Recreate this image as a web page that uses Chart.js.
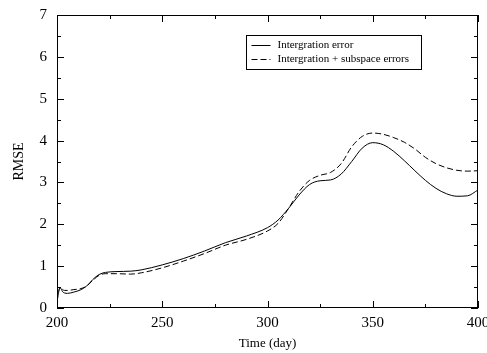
<!DOCTYPE html>
<html>
<head>
<meta charset="utf-8">
<script src="https://cdn.jsdelivr.net/npm/chart.js@4/dist/chart.umd.min.js"></script>
<style>
  html, body { margin: 0; padding: 0; background: #fff; }
  #wrap { width: 487px; height: 353px; }
</style>
</head>
<body>
<div id="wrap"><canvas id="rmse"></canvas></div>
<script>
const days = [200, 200.5, 201, 201.8, 202.5, 203.5, 205, 208, 211, 214, 217, 220, 223, 228, 235, 240,
  250, 260, 270, 280, 290, 300, 305, 310, 315, 320, 325, 330, 335, 340, 345, 350,
  355, 360, 365, 370, 375, 380, 385, 390, 395, 400];
const intErr = [0.12, 0.3, 0.42, 0.47, 0.4, 0.36, 0.35, 0.38, 0.43, 0.52, 0.68, 0.8, 0.85, 0.87, 0.88, 0.91,
  1.03, 1.18, 1.36, 1.56, 1.72, 1.92, 2.1, 2.38, 2.7, 2.95, 3.04, 3.06, 3.2, 3.5, 3.82, 3.95,
  3.9, 3.74, 3.52, 3.28, 3.05, 2.86, 2.73, 2.67, 2.68, 2.82];
const intSubErr = [0.15, 0.35, 0.45, 0.5, 0.45, 0.42, 0.42, 0.44, 0.46, 0.52, 0.66, 0.78, 0.82, 0.82, 0.81, 0.84,
  0.96, 1.12, 1.3, 1.5, 1.64, 1.84, 2.02, 2.38, 2.78, 3.05, 3.17, 3.24, 3.45, 3.85, 4.1, 4.18,
  4.15, 4.07, 3.96, 3.8, 3.6, 3.45, 3.35, 3.29, 3.27, 3.28];
const xTicks = [200, 250, 300, 350, 400];
const yTicks = [0, 1, 2, 3, 4, 5, 6, 7];
const seriesNames = ["Intergration error", "Intergration + subspace errors"];

const serif = "'Liberation Serif', 'DejaVu Serif', serif";

function pts(ys) {
  return days.map((d, i) => ({ x: d, y: ys[i] }));
}

// inward ticks on all four sides, plus the framed legend
const frame = {
  id: 'frame',
  afterDraw(chart) {
    const ctx = chart.ctx, a = chart.chartArea;
    const xs = chart.scales.x, ys = chart.scales.y;
    ctx.save();
    ctx.strokeStyle = '#000';
    ctx.lineWidth = 1;
    ctx.strokeRect(a.left + 0.5, a.top + 0.5, a.right - a.left - 1, a.bottom - a.top - 1);
    ctx.beginPath();
    for (let v = 200; v <= 400; v += 25) {
      const px = Math.round(xs.getPixelForValue(v)) + 0.5;
      const len = v % 50 === 0 ? 7 : 4;
      ctx.moveTo(px, a.bottom); ctx.lineTo(px, a.bottom - len);
      ctx.moveTo(px, a.top); ctx.lineTo(px, a.top + len);
    }
    for (let v = 0; v <= 7; v += 0.5) {
      const py = Math.round(ys.getPixelForValue(v)) + 0.5;
      const len = v % 1 === 0 ? 7 : 4;
      ctx.moveTo(a.left, py); ctx.lineTo(a.left + len, py);
      ctx.moveTo(a.right, py); ctx.lineTo(a.right - len, py);
    }
    ctx.stroke();

    // legend box
    const bx = 246.5, by = 35.5, bw = 175, bh = 34;
    ctx.fillStyle = '#fff';
    ctx.fillRect(bx, by, bw, bh);
    ctx.strokeRect(bx, by, bw, bh);
    ctx.font = "11px " + serif;
    ctx.fillStyle = '#000';
    ctx.textBaseline = 'middle';
    chart.data.datasets.forEach((ds, i) => {
      const ly = by + 10 + i * 14;
      ctx.beginPath();
      ctx.setLineDash(ds.borderDash || []);
      ctx.moveTo(bx + 5, ly); ctx.lineTo(bx + 24, ly);
      ctx.stroke();
      ctx.setLineDash([]);
      ctx.fillText(ds.label, bx + 31, ly);
    });
    ctx.restore();
  }
};

new Chart(document.getElementById('rmse'), {
  type: 'line',
  data: {
    datasets: [{
      label: seriesNames[0],
      data: pts(intErr),
      borderColor: '#000',
      borderWidth: 1,
      pointRadius: 0,
      cubicInterpolationMode: 'monotone'
    }, {
      label: seriesNames[1],
      data: pts(intSubErr),
      borderColor: '#000',
      borderWidth: 1,
      borderDash: [6, 3],
      pointRadius: 0,
      cubicInterpolationMode: 'monotone'
    }]
  },
  options: {
    responsive: true,
    maintainAspectRatio: false,
    animation: false,
    layout: { padding: { top: 15, right: 9, left: 0, bottom: 0 } },
    plugins: { legend: { display: false }, tooltip: { enabled: false } },
    scales: {
      x: {
        type: 'linear', min: 200, max: 400,
        afterBuildTicks: s => { s.ticks = xTicks.map(v => ({ value: v })); },
        afterFit: s => { s.height = 45; s.paddingRight = 0; s.paddingLeft = 0; },
        grid: { display: false, drawTicks: false },
        border: { display: false },
        ticks: { color: '#000', font: { family: serif, size: 15 }, padding: 6, maxRotation: 0 },
        title: { display: true, text: 'Time (day)', color: '#000', font: { family: serif, size: 13 }, padding: { top: 0, bottom: 2 } }
      },
      y: {
        min: 0, max: 7,
        afterBuildTicks: s => { s.ticks = yTicks.map(v => ({ value: v })); },
        afterFit: s => { s.width = 57; s.paddingTop = 0; s.paddingBottom = 0; },
        grid: { display: false, drawTicks: false },
        border: { display: false },
        ticks: { color: '#000', font: { family: serif, size: 15 }, padding: 10 },
        title: { display: true, text: 'RMSE', color: '#000', font: { family: serif, size: 14 }, padding: { top: 11, bottom: 6 } }
      }
    }
  },
  plugins: [frame]
});
</script>
</body>
</html>
